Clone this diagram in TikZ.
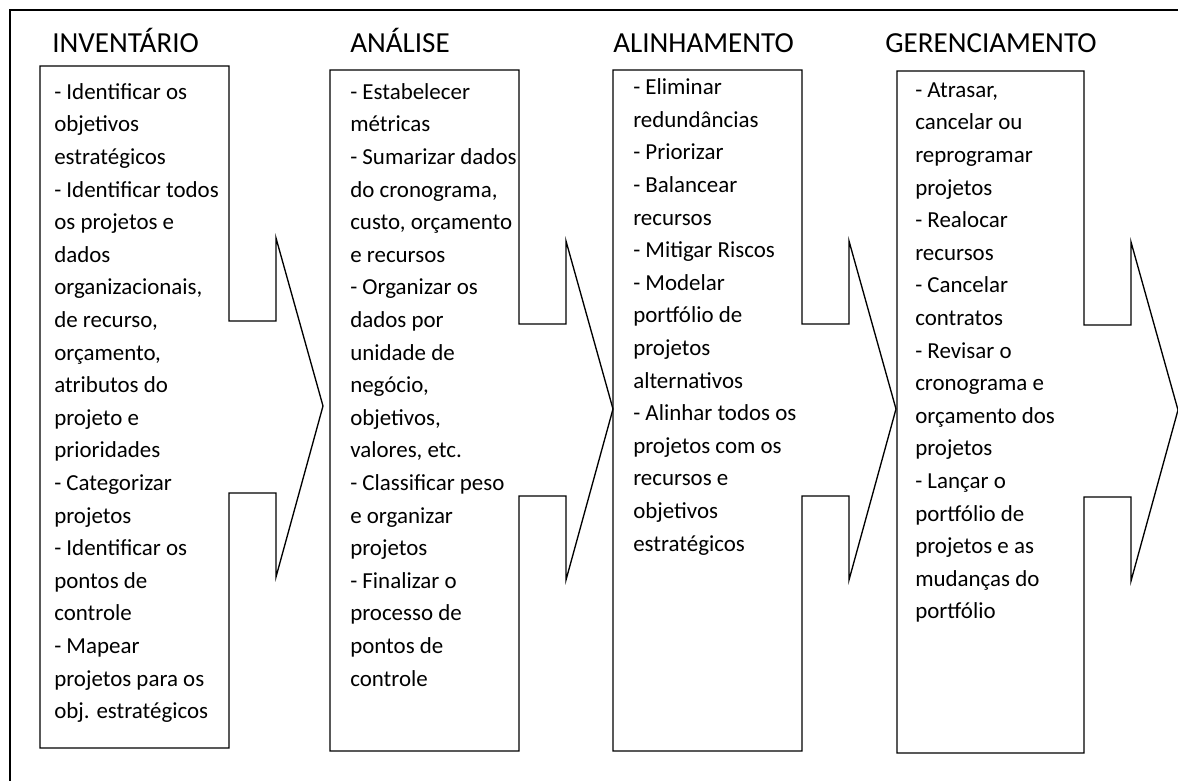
\documentclass[tikz,border=0pt]{standalone}
\usepackage{fontspec}
\setmainfont{Carlito}
\usetikzlibrary{calc}

\tikzset{
  stage/.style={draw, line width=1pt, line join=miter},
  phase/.style={anchor=base west, inner sep=0pt, font=\fontsize{21.8}{25}\selectfont},
  items/.style={anchor=north west, inner sep=0pt, align=left, font=\fontsize{17.2}{24.45}\selectfont},
}

\begin{document}
\begin{tikzpicture}[x=0.75pt,y=-0.75pt]
	\useasboundingbox (0,0) rectangle (1178,781);
	\draw[line width=1.5pt] (10,781) coordinate (fb) -- (10,10) -- (1178,10) coordinate (fr);

	% box with a notched arrow on its right side
	\foreach \l/\t/\r/\b/\h in {40/66/229/748/321, 330/70/519/751/324, 613/70/802/751/324, 897/71/1084/753/325} {
		\draw[stage] (\l,\t) -- (\r,\t) -- (\r,\h) -- (\r+47,\h) -- (\r+47,\h-83)
			-- (\r+94,\h+85) -- (\r+47,\h+256) -- (\r+47,\h+172) -- (\r,\h+172)
			-- (\r,\b) -- (\l,\b) -- cycle;
	}

	\node[phase] (inv) at (52,53) {INVENTÁRIO};
	\node[phase] (ana) at (350,53) {ANÁLISE};
	\node[phase] (ali) at (613,53) {ALINHAMENTO};
	\node[phase] (ger) at (885,53) {GERENCIAMENTO};

	\node[items] (inv-txt) at (54,76.2) {\strut- Identificar os\\objetivos\\estratégicos\\- Identificar todos\\os projetos e\\dados\\organizacionais,\\de recurso,\\orçamento,\\atributos do\\projeto e\\prioridades\\- Categorizar\\projetos\\- Identificar os\\pontos de\\controle\\- Mapear\\projetos para os\\obj. estratégicos};
	\node[items] (ana-txt) at (350,76.2) {\strut- Estabelecer\\métricas\\- Sumarizar dados\\do cronograma,\\custo, orçamento\\e recursos\\- Organizar os\\dados por\\unidade de\\negócio,\\objetivos,\\valores, etc.\\- Classificar peso\\e organizar\\projetos\\- Finalizar o\\processo de\\pontos de\\controle};
	\node[items] (ali-txt) at (633,71.7) {\strut- Eliminar\\redundâncias\\- Priorizar\\- Balancear\\recursos\\- Mitigar Riscos\\- Modelar\\portfólio de\\projetos\\alternativos\\- Alinhar todos os\\projetos com os\\recursos e\\objetivos\\estratégicos};
	\node[items] (ger-txt) at (915,74.2) {\strut- Atrasar,\\cancelar ou\\reprogramar\\projetos\\- Realocar\\recursos\\- Cancelar\\contratos\\- Revisar o\\cronograma e\\orçamento dos\\projetos\\- Lançar o\\portfólio de\\projetos e as\\mudanças do\\portfólio};
\end{tikzpicture}
\end{document}
